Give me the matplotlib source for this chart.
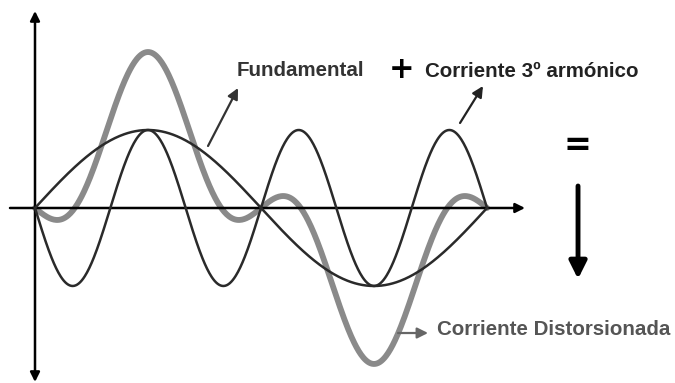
import numpy as np
import matplotlib
matplotlib.use("Agg")
import matplotlib.pyplot as plt

# Datos (amplitudes relativas, fase en radianes)
orden_armonico = 3
amp_fundamental = 1.0
amp_armonico = 1.0
# componentes de la corriente distorsionada (dibujo esquematico)
amp_dist_fund = 1.31
amp_dist_arm = 0.69

etiqueta_fund = "Fundamental"
etiqueta_arm = "Corriente 3º armónico"
etiqueta_dist = "Corriente Distorsionada"

t = np.linspace(0, 2 * np.pi, 600)
fundamental = amp_fundamental * np.sin(t)
armonico = -amp_armonico * np.sin(orden_armonico * t)
distorsionada = amp_dist_fund * np.sin(t) - amp_dist_arm * np.sin(orden_armonico * t)

fig = plt.figure(figsize=(6.75, 3.83), dpi=100)
ax = fig.add_axes([0, 0, 1, 1])
ax.set_xlim(-0.4865, 8.896)
ax.set_ylim(-2.244, 2.667)
ax.axis("off")

# ejes con flechas
ax.annotate("", xy=(6.811, 0), xytext=(-0.3475, 0),
            arrowprops=dict(arrowstyle="-|>", color="black", lw=1.8,
                            mutation_scale=14, shrinkA=0, shrinkB=0))
ax.annotate("", xy=(0, 2.526), xytext=(0, -2.231),
            arrowprops=dict(arrowstyle="<|-|>", color="black", lw=1.8,
                            mutation_scale=14, shrinkA=0, shrinkB=0))

# curvas
ax.plot(t, distorsionada, color="#8a8a8a", lw=4.2, solid_capstyle="round", zorder=2)
ax.plot(t, fundamental, color="#2a2a2a", lw=1.8, zorder=3)
ax.plot(t, armonico, color="#2a2a2a", lw=1.8, zorder=3)

fuente = dict(family="Liberation Sans", fontweight="bold", fontsize=14.8)

ax.text(2.808, 1.769, etiqueta_fund, ha="left", va="center", color="#333333", **fuente)
ax.text(5.101, 1.77, "+", ha="center", va="center", color="black",
        family="DejaVu Sans", fontweight="bold", fontsize=22)
ax.text(5.421, 1.744, etiqueta_arm, ha="left", va="center", color="#222222", **fuente)
ax.text(7.534, 0.795, "=", ha="center", va="center", color="black",
        family="DejaVu Sans", fontweight="bold", fontsize=24)
ax.text(5.588, -1.564, etiqueta_dist, ha="left", va="center", color="#555555", **fuente)

# flechas de las etiquetas
flecha = dict(arrowstyle="-|>", lw=1.6, mutation_scale=16, shrinkA=0, shrinkB=0)
ax.annotate("", xy=(2.822, 1.538), xytext=(2.405, 0.795),
            arrowprops=dict(color="#333333", **flecha))
ax.annotate("", xy=(6.227, 1.564), xytext=(5.908, 1.090),
            arrowprops=dict(color="#222222", **flecha))
ax.annotate("", xy=(5.463, -1.603), xytext=(5.046, -1.603),
            arrowprops=dict(color="#666666", **flecha))
ax.annotate("", xy=(7.548, -0.910), xytext=(7.548, 0.282),
            arrowprops=dict(arrowstyle="-|>", color="black", lw=3.5,
                            mutation_scale=26, shrinkA=0, shrinkB=0))

fig.savefig("out.png", dpi=100)
